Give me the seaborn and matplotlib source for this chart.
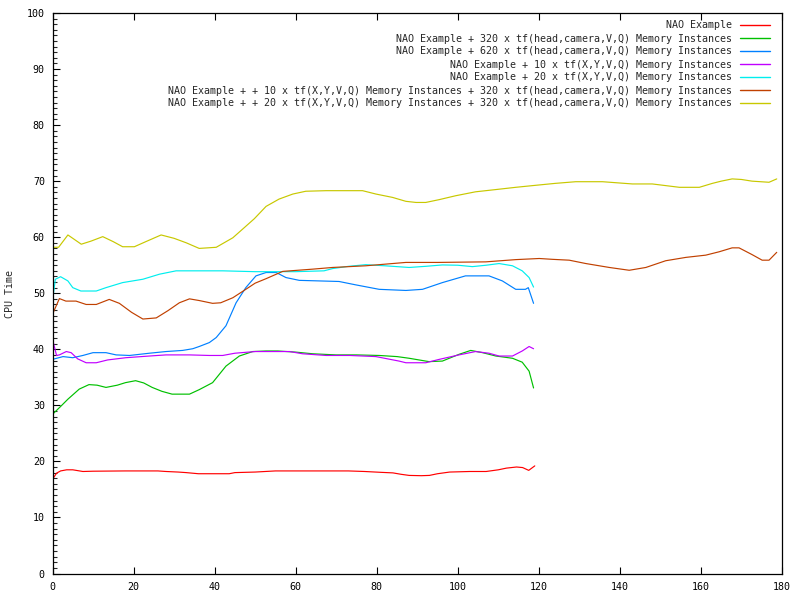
import numpy as np
import pandas as pd
import matplotlib
matplotlib.use("Agg")
import matplotlib.pyplot as plt
from matplotlib.ticker import MultipleLocator
import seaborn as sns

labels = [
    "NAO Example",
    "NAO Example + 320 x tf(head,camera,V,Q) Memory Instances",
    "NAO Example + 620 x tf(head,camera,V,Q) Memory Instances",
    "NAO Example + 10 x tf(X,Y,V,Q) Memory Instances",
    "NAO Example + 20 x tf(X,Y,V,Q) Memory Instances",
    "NAO Example + + 10 x tf(X,Y,V,Q) Memory Instances + 320 x tf(head,camera,V,Q) Memory Instances",
    "NAO Example + + 20 x tf(X,Y,V,Q) Memory Instances + 320 x tf(head,camera,V,Q) Memory Instances",
]
colors = ["#ff0000", "#00c000", "#0080ff", "#c000ff", "#00eeee", "#c04000", "#c8c800"]

red_x = [0, 1, 2, 3.5, 5, 7.5, 10, 18, 26, 28, 31, 33, 36, 40, 43.6, 45, 50, 55, 65, 73,
         77, 81, 84, 86, 88, 91, 93, 95, 98, 103, 107, 110, 112, 114.5, 116, 117.5, 119]
red_y = [16.8, 17.9, 18.3, 18.5, 18.5, 18.2, 18.25, 18.3, 18.3, 18.2, 18.1, 18.0, 17.8, 17.8, 17.8,
         18.0, 18.1, 18.3, 18.3, 18.3, 18.2, 18.05, 17.95, 17.7, 17.5, 17.45, 17.5, 17.8, 18.1, 18.2,
         18.2, 18.5, 18.8, 19.0, 18.9, 18.4, 19.2]

green_x = [0, 2, 3.8, 6.6, 9, 11, 13.2, 16, 18, 20.5, 22.5, 24.6, 27, 29.5, 33.8, 36.2, 39.5, 42.8,
           46.1, 49.4, 52.7, 55.6, 60, 64.2, 70, 75, 80.6, 85, 88, 92.9, 96.2, 100.3, 103.2, 106.1,
           109.4, 113.5, 115.9, 117.6, 118.7]
green_y = [28.4, 29.8, 31.1, 32.9, 33.7, 33.6, 33.2, 33.6, 34.05, 34.4, 34.0, 33.2, 32.5, 32.0, 32.0,
           32.8, 34.05, 37.0, 38.8, 39.6, 39.7, 39.7, 39.5, 39.2, 39.0, 39.0, 38.9, 38.7, 38.4, 37.8,
           37.9, 39.1, 39.8, 39.4, 38.8, 38.4, 37.7, 36.1, 33.1]

blue_x = [0, 2.6, 5, 7.5, 10, 13.2, 15.7, 19, 23.9, 28, 32.1, 34.6, 36.2, 38.7, 40.4, 42.8, 45.3,
          47.7, 50.2, 52.7, 55.2, 57.6, 60.9, 65.8, 70.7, 74.8, 80.6, 87.2, 91.3, 96.2, 101.9,
          107.7, 111.0, 114.3, 116.7, 117.4, 118.7]
blue_y = [38.2, 38.7, 38.5, 38.9, 39.4, 39.4, 39.0, 38.9, 39.3, 39.6, 39.8, 40.1, 40.5, 41.2, 42.1,
          44.2, 48.3, 51.0, 53.1, 53.7, 53.7, 52.8, 52.3, 52.2, 52.1, 51.5, 50.7, 50.5, 50.7, 51.9,
          53.1, 53.1, 52.2, 50.7, 50.7, 51.0, 48.2]

purple_x = [0, 1, 1.7, 3.4, 4.6, 6.2, 8.3, 10.8, 13.6, 18.1, 23.9, 28, 33.8, 38.7, 42, 45, 50, 55,
            58.5, 61.7, 67.5, 73.3, 79.8, 85.5, 87.2, 92.1, 95.4, 100.3, 104.4, 107.7, 110.2,
            113.5, 115.9, 117.6, 118.7]
purple_y = [41.8, 38.9, 39.0, 39.6, 39.4, 38.3, 37.6, 37.6, 38.1, 38.5, 38.8, 39.0, 39.0, 38.9, 38.9,
            39.3, 39.6, 39.6, 39.6, 39.2, 38.9, 38.9, 38.7, 37.9, 37.6, 37.6, 38.2, 39.0, 39.6, 39.3,
            38.8, 38.8, 39.7, 40.5, 40.1]

cyan_x = [0, 0.7, 2, 3.8, 5, 7, 10.8, 13.2, 17.3, 22.3, 26.4, 30.5, 36.2, 42, 50, 60, 67, 69.1, 73,
          77.3, 82, 88, 92, 96.2, 100, 103.6, 107, 110.2, 113.5, 115.9, 117.6, 118.7]
cyan_y = [48.6, 52.5, 52.95, 52.2, 51.0, 50.4, 50.4, 51.0, 51.9, 52.5, 53.4, 54.0, 54.0, 54.0, 53.85,
          53.85, 54.0, 54.4, 54.8, 55.1, 54.9, 54.6, 54.8, 55.05, 55.0, 54.75, 55.0, 55.3, 54.9, 54.0,
          52.8, 51.1]

brown_x = [0, 1.7, 3.3, 5.8, 8.3, 10.8, 14, 16.5, 19.5, 22.3, 25.6, 28.5, 31.3, 33.8, 36.2, 39.5,
           41.5, 44.5, 47.7, 50, 52.7, 56.8, 64.2, 69.1, 77.3, 87.2, 95, 106.9, 114.3, 120.1, 123.4,
           127.5, 131.6, 137.4, 142.3, 146.4, 151.3, 156.3, 161.2, 164.5, 167.7, 169.4, 172.6,
           175.1, 176.8, 178.7]
brown_y = [46.25, 49.05, 48.6, 48.6, 48.0, 48.0, 48.9, 48.2, 46.6, 45.4, 45.6, 46.9, 48.3, 49.0,
           48.7, 48.2, 48.3, 49.2, 50.7, 51.8, 52.6, 53.9, 54.3, 54.6, 54.9, 55.5, 55.5, 55.6, 56.0,
           56.2, 56.05, 55.9, 55.3, 54.6, 54.1, 54.6, 55.8, 56.4, 56.8, 57.4, 58.1, 58.1, 56.9,
           55.9, 55.9, 57.3]

yellow_x = [0, 1.5, 3.8, 7.1, 9.5, 12.4, 15, 17.3, 20.2, 23, 26.8, 30, 33, 36.2, 40.4, 44.5, 47,
            49.8, 52.7, 55.9, 59.3, 62.5, 67.5, 76.5, 79.8, 83.9, 87.2, 89.7, 92.1, 95.4, 99.5,
            104.4, 109.4, 114.3, 118.4, 124, 129.1, 135.7, 143.1, 148, 154.7, 159.6, 162.8, 165,
            167.7, 170, 172.6, 176.8, 178.7]
yellow_y = [58.2, 58.2, 60.4, 58.75, 59.3, 60.1, 59.2, 58.3, 58.3, 59.2, 60.4, 59.8, 59.0, 58.0,
            58.2, 59.9, 61.5, 63.3, 65.5, 66.8, 67.7, 68.2, 68.3, 68.3, 67.7, 67.1, 66.4, 66.2,
            66.2, 66.7, 67.4, 68.1, 68.5, 68.9, 69.2, 69.6, 69.9, 69.9, 69.5, 69.5, 68.9, 68.9,
            69.6, 70.0, 70.4, 70.3, 70.0, 69.8, 70.4]

series_x = [red_x, green_x, blue_x, purple_x, cyan_x, brown_x, yellow_x]
series_y = [red_y, green_y, blue_y, purple_y, cyan_y, brown_y, yellow_y]

frames = []
for lab, xs, ys in zip(labels, series_x, series_y):
    frames.append(pd.DataFrame({"x": xs, "y": ys, "series": lab}))
df = pd.concat(frames, ignore_index=True)

FS = 7.2

sns.set_theme(style="white")
plt.rcParams["font.family"] = ["DejaVu Sans Mono"]
plt.rcParams["font.size"] = FS

fig = plt.figure(figsize=(8, 6), dpi=100)
ax = fig.add_axes([52.5 / 800, 1 - 573.5 / 600, 729.5 / 800, 560.5 / 600])

sns.lineplot(data=df, x="x", y="y", hue="series", hue_order=labels,
             palette=dict(zip(labels, colors)), estimator=None, sort=False,
             linewidth=0.85, ax=ax)

ax.set_xlim(0, 180)
ax.set_ylim(0, 100)
ax.set_xticks(range(0, 181, 20))
ax.set_yticks(range(0, 101, 10))
ax.yaxis.set_minor_locator(MultipleLocator(1))
ax.set_xlabel("")
ax.set_ylabel("")

for s in ax.spines.values():
    s.set_visible(True)
    s.set_color("black")
    s.set_linewidth(0.9)

ax.tick_params(axis="x", which="major", direction="in", bottom=True, top=True,
               length=5, width=0.8, pad=6, labelsize=FS, colors="black")
ax.tick_params(axis="x", which="minor", bottom=False, top=False)
ax.tick_params(axis="y", which="major", direction="in", left=True, right=False,
               length=5, width=0.8, pad=5.5, labelsize=FS, colors="black")
ax.tick_params(axis="y", which="minor", direction="in", left=True, right=False,
               length=2.7, width=0.8)

fig.text(10 / 800, 1 - 294 / 600, "CPU Time", rotation=90, ha="center", va="center",
         fontsize=FS)

handles, labs = ax.get_legend_handles_labels()
for h in handles:
    h.set_linewidth(1.0)
ax.legend(handles, labs, loc="upper right",
          bbox_to_anchor=((770 - 52.5) / 729.5, (573.5 - 20.5) / 560.5),
          frameon=False, borderpad=0, borderaxespad=0, markerfirst=False,
          handlelength=3.0, handletextpad=0.83, labelspacing=0.30, fontsize=FS)

fig.savefig("out.png", dpi=100)
